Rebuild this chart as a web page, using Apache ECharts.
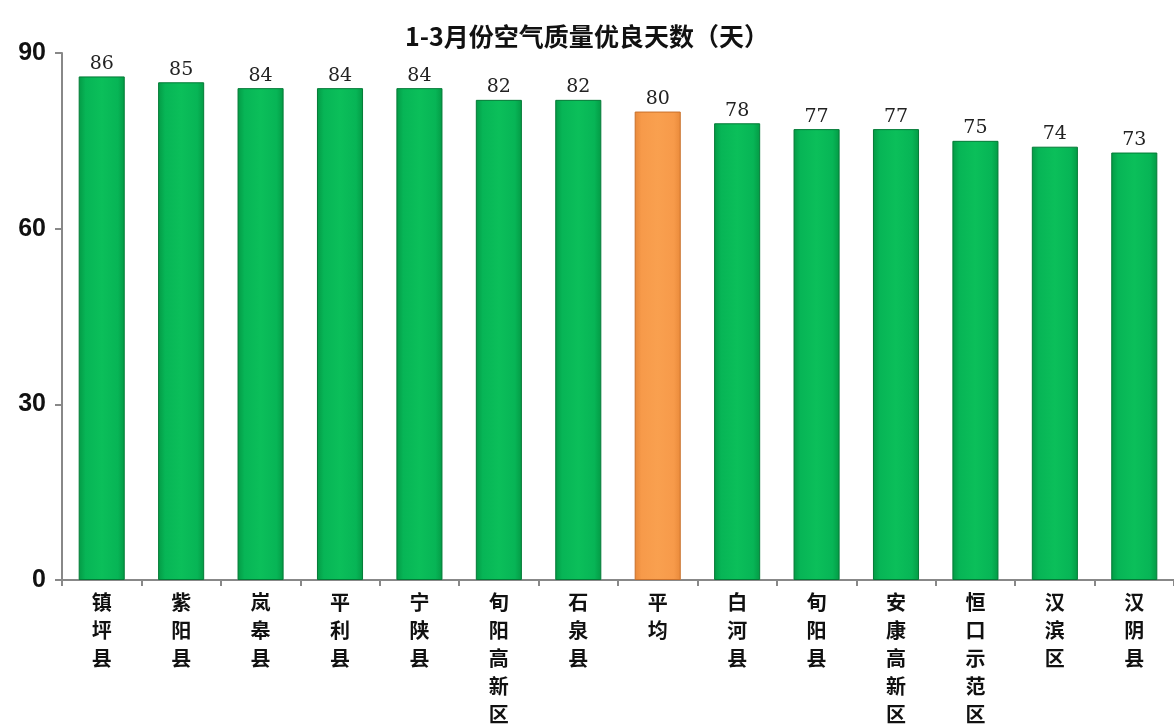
<!DOCTYPE html>
<html><head><meta charset="utf-8">
<script src="https://cdn.jsdelivr.net/npm/echarts@6/dist/echarts.min.js"></script>
<style>html,body{margin:0;padding:0;background:#fff}#c{width:1174px;height:724px}</style>
</head><body><div id="c"></div>
<script>
const titleText = '1-3月份空气质量优良天数（天）';
const categories = ['镇坪县','紫阳县','岚皋县','平利县','宁陕县','旬阳高新区','石泉县','平均','白河县','旬阳县','安康高新区','恒口示范区','汉滨区','汉阴县'];
const values = [86,85,84,84,84,82,82,80,78,77,77,75,74,73];
const highlightCategory = '平均';
const yTicks = [0,30,60,90];

const green = {type:'linear',x:0,y:0,x2:1,y2:0,colorStops:[{offset:0,color:'#049a45'},{offset:0.15,color:'#07b556'},{offset:0.5,color:'#0bbf5a'},{offset:0.85,color:'#07b556'},{offset:1,color:'#049a45'}]};
const orange = {type:'linear',x:0,y:0,x2:1,y2:0,colorStops:[{offset:0,color:'#e98a3a'},{offset:0.15,color:'#f79a4a'},{offset:0.5,color:'#f9a04f'},{offset:0.85,color:'#f79a4a'},{offset:1,color:'#e98a3a'}]};

const chart = echarts.init(document.getElementById('c'));
chart.setOption({
  backgroundColor:'#fff',
  animation:false,
  title:{text:titleText,left:'center',top:19,textStyle:{fontFamily:'Noto Sans CJK SC',fontWeight:'bold',fontSize:25,color:'#111'}},
  grid:{left:62,right:0,top:53,bottom:144,containLabel:false,outerBoundsMode:'none'},
  xAxis:{type:'category',data:categories,
    axisLine:{lineStyle:{color:'#888',width:2}},
    axisTick:{show:true,length:6,lineStyle:{color:'#888',width:2}},
    axisLabel:{interval:0,margin:8,lineHeight:28,fontFamily:'Noto Sans CJK SC',fontWeight:'bold',fontSize:20,color:'#111',
      formatter:v=>v.split('').join('\n')}},
  yAxis:{type:'value',min:0,max:90,interval:30,
    axisLine:{show:true,lineStyle:{color:'#888',width:2}},
    axisTick:{show:true,length:7,lineStyle:{color:'#888',width:2}},
    splitLine:{show:false},
    axisLabel:{margin:16,fontFamily:'Liberation Sans',fontWeight:'bold',fontSize:25,color:'#111',
      formatter:v=>yTicks.includes(v)?String(v):''}},
  series:[{type:'bar',barWidth:'58%',
    data:values.map((v,i)=>({value:v,itemStyle:{color:categories[i]===highlightCategory?orange:green,
      borderColor:categories[i]===highlightCategory?'#c8702a':'#037a36',borderWidth:1}})),
    label:{show:true,position:'top',distance:3,fontFamily:'DejaVu Serif',fontSize:19,color:'#222'}}]
});
</script></body></html>
